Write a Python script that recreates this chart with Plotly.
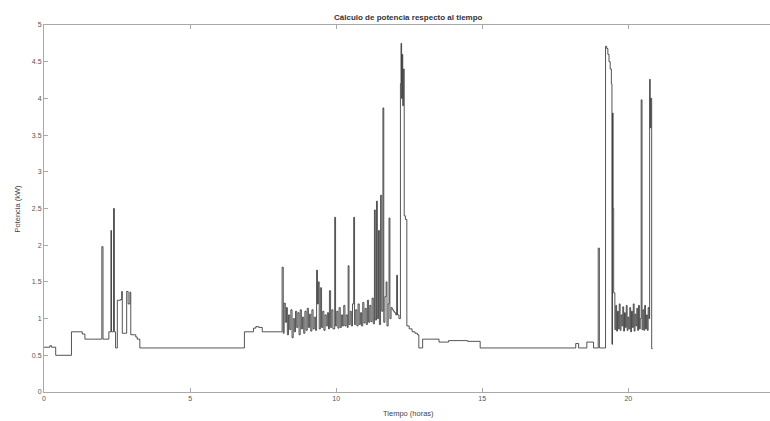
import plotly.graph_objects as go

# ---- data (time in hours, power in kW) ----
t_base = [0.0, 0.20, 0.26, 0.40, 0.94, 1.31, 1.40, 1.98, 2.02, 2.22, 2.29, 2.31,
          2.38, 2.41, 2.45, 2.51, 2.62, 2.66, 2.68, 2.79, 2.83, 2.88, 2.94, 2.97,
          3.14, 3.19, 3.28, 6.86, 7.17, 7.25, 7.35, 7.47, 8.10]
p_base = [0.61, 0.63, 0.61, 0.50, 0.82, 0.79, 0.72, 1.98, 0.72, 0.82, 2.20, 0.82,
          2.50, 0.82, 0.60, 1.25, 1.26, 1.37, 0.80, 0.80, 1.37, 1.20, 1.36, 0.78,
          0.75, 0.72, 0.60, 0.82, 0.87, 0.89, 0.88, 0.82, 0.82]

t_mid = [8.15, 8.19, 8.22, 8.26, 8.30, 8.33, 8.37, 8.41, 8.45, 8.49, 8.53, 8.57,
         8.61, 8.65, 8.69, 8.73, 8.77, 8.81, 8.85, 8.89, 8.93, 8.97, 9.01, 9.05,
         9.09, 9.13, 9.17, 9.21, 9.25, 9.29, 9.33, 9.36, 9.39, 9.42, 9.46, 9.50,
         9.54, 9.58, 9.62, 9.66, 9.70, 9.74, 9.77, 9.81, 9.85, 9.89, 9.95, 9.98,
         10.02, 10.06, 10.10, 10.14, 10.18, 10.22, 10.26, 10.30, 10.34, 10.38,
         10.41, 10.44, 10.48, 10.52, 10.56, 10.60, 10.63, 10.67, 10.71, 10.75,
         10.79, 10.83, 10.87, 10.91, 10.95, 10.99, 11.03, 11.07, 11.11, 11.15,
         11.19, 11.23, 11.27, 11.31, 11.34, 11.38, 11.41, 11.45, 11.48, 11.52,
         11.56, 11.60, 11.63, 11.67, 11.71, 11.74, 11.78, 11.81, 11.84, 11.88,
         11.92, 11.96, 12.00, 12.04, 12.07, 12.10, 12.15, 12.20, 12.22, 12.24,
         12.26, 12.28, 12.30, 12.33, 12.37, 12.42, 12.50, 12.60, 12.70, 12.78,
         12.83, 12.96, 13.52, 13.85, 14.50, 14.93]
p_mid = [1.70, 0.80, 1.21, 0.95, 1.15, 0.78, 1.05, 0.85, 1.12, 0.74, 1.00, 0.82,
         1.10, 0.88, 1.08, 0.78, 1.12, 0.86, 1.02, 0.80, 1.10, 0.84, 1.14, 0.88,
         1.06, 0.83, 1.12, 0.86, 1.02, 0.84, 1.66, 1.20, 1.50, 0.86, 1.42, 0.88,
         1.10, 0.84, 1.05, 0.90, 1.08, 0.86, 1.38, 0.88, 1.12, 0.86, 2.38, 0.90,
         1.10, 0.87, 1.15, 0.88, 1.05, 0.90, 1.18, 0.90, 1.05, 0.88,
         1.72, 0.92, 1.10, 0.90, 1.20, 2.38, 0.92, 1.12, 0.90, 1.20,
         0.92, 1.08, 0.90, 1.22, 0.94, 1.14, 0.92, 1.25, 0.95, 1.18,
         0.96, 1.28, 0.93, 2.48, 0.98, 2.60, 1.00, 2.20, 0.92, 2.68,
         1.10, 3.87, 0.95, 1.30, 1.50, 0.90, 1.20, 2.37, 1.00, 1.15,
         1.12, 1.10, 1.08, 1.05, 1.59, 1.05, 1.00, 4.20, 4.75, 4.00,
         4.60, 3.90, 4.40, 2.40, 2.35, 0.90, 0.86, 0.82, 0.80, 0.78,
         0.60, 0.72, 0.68, 0.70, 0.69, 0.60]

t_end = [18.20, 18.30, 18.58, 18.81, 18.97, 19.01, 19.22, 19.26, 19.30, 19.34,
         19.38, 19.42, 19.44, 19.46, 19.48, 19.50, 19.54, 19.57, 19.60, 19.63,
         19.66, 19.69, 19.72, 19.75, 19.78, 19.81, 19.84, 19.87, 19.90, 19.93,
         19.96, 19.99, 20.02, 20.05, 20.08, 20.11, 20.14, 20.17, 20.20, 20.23,
         20.26, 20.29, 20.32, 20.35, 20.38, 20.41, 20.44, 20.47, 20.50, 20.53,
         20.56, 20.59, 20.62, 20.65, 20.68, 20.71, 20.73, 20.75, 20.77, 20.80,
         20.83]
p_end = [0.66, 0.60, 0.68, 0.60, 1.96, 0.60, 4.71, 4.68, 4.60, 4.50,
         4.40, 4.20, 0.65, 3.80, 2.50, 1.35, 0.85, 1.18, 0.83, 1.10,
         0.86, 1.20, 0.84, 1.05, 0.90, 1.16, 0.83, 1.08, 0.88, 1.18,
         0.84, 1.02, 0.86, 1.15, 0.82, 1.10, 0.88, 1.20, 0.83, 1.06,
         0.90, 1.14, 0.84, 1.18, 0.86, 1.00, 3.98, 0.85, 1.12, 0.84,
         1.18, 0.86, 1.05, 0.84, 1.15, 1.00, 4.26, 3.60, 4.00, 0.59,
         0.59]

tiempo = t_base + t_mid + t_end
potencia = p_base + p_mid + p_end

x_ticks = [0, 5, 10, 15, 20, 25]
y_ticks = [0, 0.5, 1, 1.5, 2, 2.5, 3, 3.5, 4, 4.5, 5]

FONT = "Liberation Sans"
AX = "#a9a9a9"
TXT = "#555555"

fig = go.Figure()
fig.add_trace(go.Scatter(x=tiempo, y=potencia, mode="lines", line_shape="hv",
                         line=dict(color="#2a2a2a", width=0.8), hoverinfo="x+y",
                         showlegend=False))

fig.update_layout(
    width=770, height=421,
    margin=dict(l=44, r=0, t=25, b=29, pad=0),
    paper_bgcolor="white", plot_bgcolor="white",
    font=dict(family=FONT, size=7, color=TXT),
    xaxis=dict(range=[0, 24.85], tickvals=x_ticks, ticks="inside", ticklen=4,
               tickcolor=AX, showline=True, linecolor=AX, linewidth=1,
               mirror="ticks", showgrid=False, zeroline=False,
               tickfont=dict(size=7, color=TXT)),
    yaxis=dict(range=[0, 5], tickvals=y_ticks, ticks="inside", ticklen=4,
               tickcolor=AX, showline=True, linecolor=AX, linewidth=1,
               mirror=False, showgrid=False, zeroline=False,
               tickfont=dict(size=7, color=TXT)),
    annotations=[
        dict(text="<b>Cálculo de potencia respecto al tiempo</b>", xref="paper", yref="paper",
             x=0.502, y=1, yshift=8, showarrow=False, xanchor="center", yanchor="middle",
             font=dict(size=8, color="#333333", family=FONT)),
        dict(text="Tiempo (horas)", xref="paper", yref="paper", x=0.502, y=0,
             yshift=-21, showarrow=False, xanchor="center", yanchor="middle",
             font=dict(size=7.5, color="#444444", family=FONT)),
        dict(text="Potencia (kW)", xref="paper", yref="paper", x=0, y=0.5,
             xshift=-27, textangle=-90, showarrow=False, xanchor="center",
             yanchor="middle", font=dict(size=7.5, color="#444444", family=FONT)),
    ],
)

fig.write_html("out.html")
